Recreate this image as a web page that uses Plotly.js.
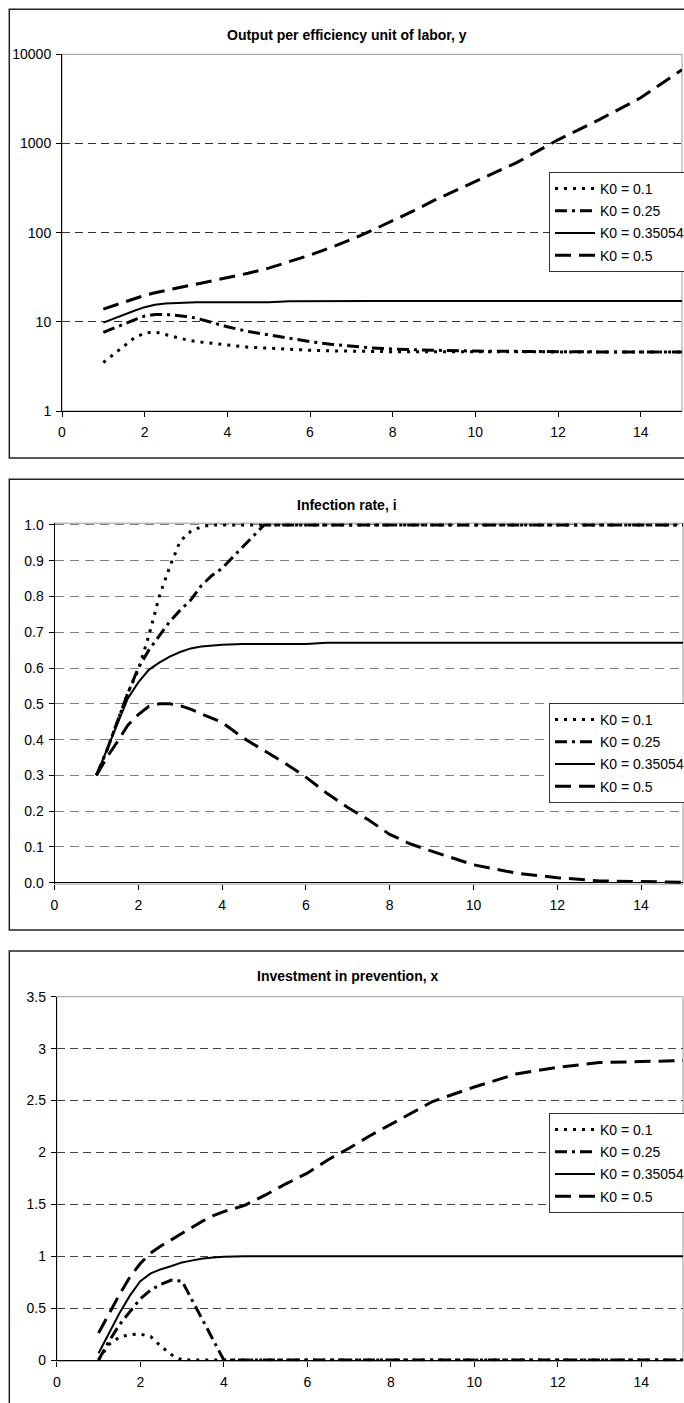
<!DOCTYPE html>
<html>
<head>
<meta charset="utf-8">
<script src="https://cdn.plot.ly/plotly-3.0.1.min.js"></script>
<style>html,body{margin:0;padding:0;background:#fff;overflow:hidden;}#chart{width:720px;height:1403px;}</style>
</head>
<body>
<div id="chart"></div>
<script>
// ---- data ----
const t = [1, 1.25, 1.5, 1.75, 2, 2.25, 2.5, 2.75, 3, 3.25, 3.5, 3.75, 4, 4.5, 5, 5.5, 6, 6.5, 7, 7.5, 8, 8.5, 9, 10, 11, 12, 13, 14, 15];
const seriesNames = ["K0 = 0.1", "K0 = 0.25", "K0 = 0.35054", "K0 = 0.5"];

// Output per efficiency unit of labor, y
const yK01  = [3.5, 4.3, 5.4, 6.6, 7.5, 7.7, 7.2, 6.7, 6.3, 6.0, 5.8, 5.6, 5.5, 5.2, 5.05, 4.9, 4.8, 4.72, 4.66, 4.63, 4.62, 4.61, 4.6, 4.6, 4.6, 4.6, 4.6, 4.6, 4.6];
const yK025 = [7.6, 8.5, 9.5, 10.5, 11.6, 12.1, 12.1, 11.9, 11.5, 11.0, 10.2, 9.4, 8.8, 7.8, 7.1, 6.5, 6.0, 5.6, 5.3, 5.1, 4.95, 4.85, 4.8, 4.7, 4.65, 4.6, 4.6, 4.6, 4.6];
const yK035 = [9.8, 10.9, 12.0, 13.3, 14.6, 15.5, 16.0, 16.3, 16.5, 16.6, 16.6, 16.6, 16.6, 16.6, 16.6, 17.0, 17.1, 17.1, 17.1, 17.1, 17.1, 17.1, 17.1, 17.1, 17.1, 17.1, 17.1, 17.1, 17.1];
const yK05  = [13.9, 15.2, 16.6, 18.0, 19.8, 21.2, 22.4, 23.6, 24.9, 26.3, 27.8, 29.4, 31.0, 35, 40, 47, 56, 68, 84, 106, 135, 175, 230, 375, 610, 1100, 1850, 3250, 6700];

// Infection rate, i
const iK01  = [0.30, 0.37, 0.45, 0.53, 0.595, 0.69, 0.80, 0.883, 0.955, 0.982, 0.995, 1.0, 1.0, 1.0, 1.0, 1.0, 1.0, 1.0, 1.0, 1.0, 1.0, 1.0, 1.0, 1.0, 1.0, 1.0, 1.0, 1.0, 1.0];
const iK025 = [0.30, 0.37, 0.45, 0.53, 0.60, 0.65, 0.69, 0.73, 0.762, 0.79, 0.83, 0.858, 0.879, 0.94, 1.0, 1.0, 1.0, 1.0, 1.0, 1.0, 1.0, 1.0, 1.0, 1.0, 1.0, 1.0, 1.0, 1.0, 1.0];
const iK035 = [0.30, 0.37, 0.445, 0.515, 0.56, 0.595, 0.615, 0.632, 0.645, 0.655, 0.66, 0.663, 0.665, 0.667, 0.667, 0.667, 0.667, 0.671, 0.671, 0.671, 0.671, 0.671, 0.671, 0.671, 0.671, 0.671, 0.671, 0.671, 0.671];
const iK05  = [0.30, 0.35, 0.394, 0.44, 0.47, 0.493, 0.50, 0.50, 0.495, 0.485, 0.472, 0.46, 0.448, 0.405, 0.37, 0.334, 0.295, 0.25, 0.21, 0.175, 0.135, 0.108, 0.088, 0.05, 0.027, 0.014, 0.005, 0.002, 0.001];

// Investment in prevention, x
const xK01  = [0, 0.15, 0.22, 0.245, 0.25, 0.225, 0.13, 0.05, 0, 0, 0, 0, 0, 0, 0, 0, 0, 0, 0, 0, 0, 0, 0, 0, 0, 0, 0, 0, 0];
const xK025 = [0, 0.18, 0.34, 0.47, 0.59, 0.675, 0.73, 0.77, 0.76, 0.57, 0.38, 0.19, 0, 0, 0, 0, 0, 0, 0, 0, 0, 0, 0, 0, 0, 0, 0, 0, 0];
const xK035 = [0.065, 0.26, 0.45, 0.62, 0.76, 0.835, 0.875, 0.905, 0.94, 0.96, 0.978, 0.988, 0.995, 1.0, 1.0, 1.0, 1.0, 1.0, 1.0, 1.0, 1.0, 1.0, 1.0, 1.0, 1.0, 1.0, 1.0, 1.0, 1.0];
const xK05  = [0.26, 0.45, 0.63, 0.80, 0.93, 1.03, 1.10, 1.16, 1.22, 1.28, 1.34, 1.39, 1.43, 1.49, 1.59, 1.70, 1.80, 1.93, 2.04, 2.16, 2.27, 2.38, 2.49, 2.63, 2.755, 2.82, 2.865, 2.875, 2.885];

// ticks and titles
const xTickVals = [0, 2, 4, 6, 8, 10, 12, 14];
const y1TickVals = [1, 10, 100, 1000, 10000];
const y1TickText = ["1", "10", "100", "1000", "10000"];
const y2TickVals = [0, 0.1, 0.2, 0.3, 0.4, 0.5, 0.6, 0.7, 0.8, 0.9, 1.0];
const y2TickText = ["0.0", "0.1", "0.2", "0.3", "0.4", "0.5", "0.6", "0.7", "0.8", "0.9", "1.0"];
const y3TickVals = [0, 0.5, 1, 1.5, 2, 2.5, 3, 3.5];
const y3TickText = ["0", "0.5", "1", "1.5", "2", "2.5", "3", "3.5"];
const panelTitles = ["Output per efficiency unit of labor, y", "Infection rate, i", "Investment in prevention, x"];

// ---- styles ----
const W = 720, H = 1403;   // canvas is wider than the 684px window: right side is cropped like the original
const FONT = "Liberation Sans, Arial, sans-serif";
const styles = [
  {width: 3, dash: "3px,6px"},
  {width: 3, dash: "12px,5px,3px,5px"},
  {width: 2, dash: "solid"},
  {width: 3, dash: "16px,8px"}
];
const panels = [
  {vals: [yK01, yK025, yK035, yK05], xa: "x", ya: "y", lg: "legend"},
  {vals: [iK01, iK025, iK035, iK05], xa: "x2", ya: "y2", lg: "legend2"},
  {vals: [xK01, xK025, xK035, xK05], xa: "x3", ya: "y3", lg: "legend3"}
];

const traces = [];
panels.forEach((p, pi) => {
  p.vals.forEach((v, si) => {
    traces.push({
      type: "scatter", mode: "lines", x: t, y: v,
      name: seriesNames[si], xaxis: p.xa, yaxis: p.ya, legend: p.lg,
      legendgroup: "p" + pi + "s" + si,
      line: {color: "#000", width: styles[si].width, dash: styles[si].dash},
      hoverinfo: "skip"
    });
  });
});

function xAxis(dom, anchor, showline) {
  return {
    domain: dom, anchor: anchor, range: [0, 15], tickvals: xTickVals,
    showgrid: false, zeroline: false, showline: showline, linecolor: "#000", linewidth: 1,
    ticks: "outside", ticklen: 5, tickcolor: "#000", tickwidth: 1,
    tickfont: {family: FONT, size: 14, color: "#000"}, ticklabelstandoff: 3
  };
}
function yAxis(dom, anchor, extra) {
  return Object.assign({
    domain: dom, anchor: anchor,
    showgrid: true, gridcolor: "#333", gridwidth: 1, griddash: "8px,5px",
    showline: true, linecolor: "#000", linewidth: 1,
    ticks: "outside", ticklen: 5, tickcolor: "#000", tickwidth: 1,
    tickfont: {family: FONT, size: 14, color: "#000"}, ticklabelstandoff: 2
  }, extra);
}

function legendCfg(x, y) {
  return {
    x: x, y: y, xanchor: "left", yanchor: "top",
    bgcolor: "#fff", bordercolor: "#333", borderwidth: 1,
    font: {family: FONT, size: 14, color: "#000"},
    traceorder: "grouped", tracegroupgap: 1, itemwidth: 40
  };
}

const frame = (y0, y1) => ({type: "rect", xref: "paper", yref: "paper", x0: 9.3 / W, x1: 1.05, y0: y0, y1: y1,
  line: {color: "#222", width: 1.5}, layer: "below"});
const border = (xa, ya) => ({type: "rect", xref: xa + " domain", yref: ya + " domain", x0: 0, x1: 1, y0: 0, y1: 1,
  line: {color: "#999", width: 1}, layer: "below"});

const titleAnn = (txt, y) => ({text: "<b>" + txt + "</b>", xref: "paper", yref: "paper", x: 347 / W, y: y,
  xanchor: "center", yanchor: "middle", showarrow: false, font: {family: FONT, size: 14, color: "#000"}});

const layout = {
  width: W, height: H, margin: {l: 0, r: 0, t: 0, b: 0},
  paper_bgcolor: "#fff", plot_bgcolor: "#fff", showlegend: true,
  xaxis: xAxis([62 / W, 682 / W], "y", true),
  yaxis: yAxis([1 - 411 / H, 1 - 54.3 / H], "x", {type: "log", range: [0, 4], tickvals: y1TickVals, ticktext: y1TickText, zeroline: false}),
  xaxis2: xAxis([54.5 / W, 683 / W], "y2", false),
  yaxis2: yAxis([1 - 884.1 / H, 1 - 523.2 / H], "x2", {range: [-0.004, 1.005], tickvals: y2TickVals, ticktext: y2TickText,
    gridcolor: "#808080", griddash: "9px,6px", zeroline: true, zerolinecolor: "#000", zerolinewidth: 1}),
  xaxis3: xAxis([56.8 / W, 683 / W], "y3", false),
  yaxis3: yAxis([1 - 1361.25 / H, 1 - 996.7 / H], "x3", {range: [-0.012, 3.5], tickvals: y3TickVals, ticktext: y3TickText,
    gridcolor: "#444", zeroline: true, zerolinecolor: "#000", zerolinewidth: 1}),
  legend: legendCfg(549 / W, 1 - 172 / H),
  legend2: legendCfg(549 / W, 1 - 703 / H),
  legend3: legendCfg(549 / W, 1 - 1113 / H),
  shapes: [
    frame(1 - 458 / H, 1 - 9.3 / H),
    frame(1 - 930 / H, 1 - 479.3 / H),
    frame(-0.05, 1 - 951 / H),
    border("x", "y"), border("x2", "y2"), border("x3", "y3")
  ],
  annotations: [
    titleAnn(panelTitles[0], 1 - 35 / H),
    titleAnn(panelTitles[1], 1 - 505 / H),
    titleAnn(panelTitles[2], 1 - 976 / H)
  ]
};

Plotly.newPlot("chart", traces, layout, {staticPlot: true, displayModeBar: false});
</script>
</body>
</html>
